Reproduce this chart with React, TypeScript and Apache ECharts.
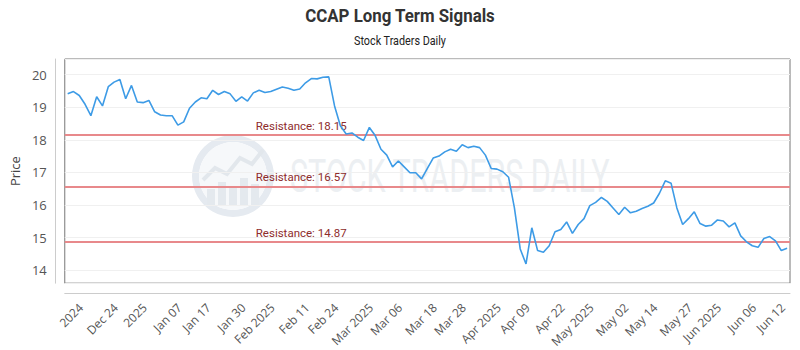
import React, { useEffect, useRef } from "react";
import * as echarts from "echarts";

const titleText = "CCAP Long Term Signals";
const subtitleText = "Stock Traders Daily";
const watermarkText = "STOCK TRADERS DAILY";
const yAxisName = "Price";

const prices = [
  19.41, 19.48, 19.36, 19.09, 18.74, 19.32, 19.04, 19.63, 19.77, 19.85,
  19.26, 19.67, 19.16, 19.14, 19.21, 18.86, 18.76, 18.74, 18.74, 18.45,
  18.55, 18.97, 19.16, 19.29, 19.26, 19.52, 19.39, 19.48, 19.41, 19.18,
  19.32, 19.19, 19.44, 19.52, 19.45, 19.48, 19.55, 19.62, 19.58, 19.52,
  19.56, 19.75, 19.88, 19.87, 19.92, 19.93, 19.04, 18.43, 18.18, 18.21,
  18.08, 17.98, 18.38, 18.13, 17.71, 17.53, 17.17, 17.35, 17.17, 16.99,
  16.99, 16.8, 17.12, 17.44, 17.5, 17.63, 17.71, 17.65, 17.85, 17.76,
  17.8, 17.76, 17.53, 17.12, 17.1, 17.02, 16.85, 15.91, 14.65, 14.19,
  15.3, 14.6, 14.55, 14.75, 15.18, 15.25, 15.48, 15.13, 15.4, 15.58,
  15.98, 16.08, 16.23, 16.11, 15.91, 15.71, 15.93, 15.76, 15.81, 15.89,
  15.96, 16.06, 16.36, 16.74, 16.67, 15.91, 15.4, 15.58, 15.79, 15.43,
  15.35, 15.38, 15.54, 15.51, 15.33, 15.45, 15.05, 14.87, 14.75, 14.7,
  14.97, 15.03, 14.9, 14.6, 14.67,
];

const tickLabels = [
  "2024", "Dec 24", "2025", "Jan 07", "Jan 17", "Jan 30", "Feb 2025", "Feb 11",
  "Feb 24", "Mar 2025", "Mar 06", "Mar 18", "Mar 28", "Apr 2025", "Apr 09",
  "Apr 22", "May 2025", "May 02", "May 14", "May 27", "Jun 2025", "Jun 06", "Jun 12",
];

const resistanceLevels = [18.15, 16.57, 14.87];

function measure(text: string, font: string): number {
  const c = document.createElement("canvas");
  const ctx = c.getContext("2d");
  if (!ctx) return 0;
  ctx.font = font;
  return ctx.measureText(text).width;
}

export default function App() {
  const ref = useRef<HTMLDivElement>(null);
  useEffect(() => {
    document.body.style.margin = "0";
    const chart = echarts.init(ref.current!, null, { renderer: "svg" });
    const labelByIndex: Record<number, string> = {};
    tickLabels.forEach((t, j) => {
      labelByIndex[Math.round(3 + 5.5 * j)] = t;
    });
    const categories = prices.map((_, i) => labelByIndex[i] ?? `#${i}`);

    const titleFont = "bold 18px Roboto, sans-serif";
    const tw = measure(titleText, titleFont);
    const titleScale = tw > 0 ? 190 / tw : 0.86;
    const wmFont = "46px Roboto, sans-serif";
    const ww = measure(watermarkText, wmFont);
    const wmScale = ww > 0 ? 320 / ww : 0.66;

    chart.setOption({
      animation: false,
      backgroundColor: "#ffffff",
      textStyle: { fontFamily: "'Open Sans', sans-serif" },
      grid: {
        left: 60,
        right: 10,
        top: 59,
        bottom: 64,
        show: true,
        borderColor: "#777777",
        borderWidth: 1,
        backgroundColor: "transparent",
      },
      graphic: [
        {
          type: "text",
          x: 400,
          y: 16,
          scaleX: titleScale,
          style: {
            text: titleText,
            font: titleFont,
            fill: "#333333",
            align: "center",
            verticalAlign: "middle",
            textAlign: "center",
            textVerticalAlign: "middle",
          },
        },
        {
          type: "text",
          x: 400,
          y: 41,
          scaleX: 0.9,
          style: {
            text: subtitleText,
            font: "12px Roboto, sans-serif",
            fill: "#222222",
            align: "center",
            verticalAlign: "middle",
            textAlign: "center",
            textVerticalAlign: "middle",
          },
        },
        {
          type: "group",
          silent: true,
          z: 1,
          children: [
            { type: "ring", shape: { cx: 233, cy: 176, r: 41, r0: 34 }, style: { fill: "#e5eaf0" } },
            { type: "circle", shape: { cx: 233, cy: 176, r: 34 }, style: { fill: "#f6f8fa" } },
            { type: "rect", shape: { x: 207, y: 189, width: 8, height: 17 }, style: { fill: "#e4e9ee" } },
            { type: "rect", shape: { x: 218, y: 182, width: 8, height: 24 }, style: { fill: "#e4e9ee" } },
            { type: "rect", shape: { x: 229, y: 186, width: 8, height: 20 }, style: { fill: "#e4e9ee" } },
            { type: "rect", shape: { x: 240, y: 178, width: 8, height: 28 }, style: { fill: "#e4e9ee" } },
            { type: "rect", shape: { x: 251, y: 184, width: 8, height: 22 }, style: { fill: "#e4e9ee" } },
            {
              type: "polyline",
              shape: { points: [[203, 180], [215, 168], [227, 174], [240, 158], [252, 164], [263, 150]] },
              style: { stroke: "#e2e7ec", lineWidth: 4, fill: null },
            },
            {
              type: "text",
              x: 290,
              y: 177,
              scaleX: wmScale,
              style: {
                text: watermarkText,
                font: wmFont,
                fill: "#eceff2",
                align: "left",
                verticalAlign: "middle",
                textAlign: "left",
                textVerticalAlign: "middle",
              },
            },
          ],
        },
      ],
      xAxis: {
        type: "category",
        data: categories,
        boundaryGap: true,
        offset: 10,
        axisLine: { show: true, lineStyle: { color: "#cccccc", width: 1 } },
        axisTick: { show: false },
        splitLine: { show: false },
        axisLabel: {
          interval: 0,
          rotate: 45,
          margin: 8,
          fontSize: 12,
          color: "#555555",
          padding: [0, 6, 0, 0],
          formatter: (_v: string, i: number) => labelByIndex[i] ?? "",
        },
      },
      yAxis: {
        type: "value",
        min: 13.6,
        max: 20.48,
        splitNumber: 7,
        offset: 10,
        name: yAxisName,
        nameLocation: "middle",
        nameGap: 30,
        nameTextStyle: { fontSize: 13, color: "#444444" },
        axisLine: { show: true, lineStyle: { color: "#cccccc", width: 1 } },
        axisTick: { show: false },
        splitLine: { show: true, lineStyle: { color: "#f0f0f0", width: 1 } },
        axisLabel: {
          fontSize: 13,
          color: "#555555",
          margin: 8,
          showMinLabel: false,
          showMaxLabel: false,
          formatter: (v: number) => (Number.isInteger(v) ? String(v) : ""),
        },
      },
      series: [
        {
          type: "line",
          data: prices,
          symbol: "none",
          smooth: false,
          z: 3,
          lineStyle: { color: "#3d9be6", width: 1.6 },
          markLine: {
            silent: true,
            symbol: "none",
            z: 2,
            lineStyle: { color: "#e8898b", width: 2, type: "solid" },
            label: {
              show: true,
              position: "insideStartTop",
              distance: [191, 3],
              fontFamily: "Roboto, sans-serif",
              fontSize: 11.5,
              color: "#8e2c2c",
              formatter: (p: any) => `Resistance: ${p.value}`,
            },
            data: resistanceLevels.map((v) => ({ yAxis: v })),
          },
        },
      ],
    });
    return () => chart.dispose();
  }, []);
  return <div ref={ref} style={{ position: "absolute", left: 0, top: 0, width: 800, height: 350 }} />;
}
